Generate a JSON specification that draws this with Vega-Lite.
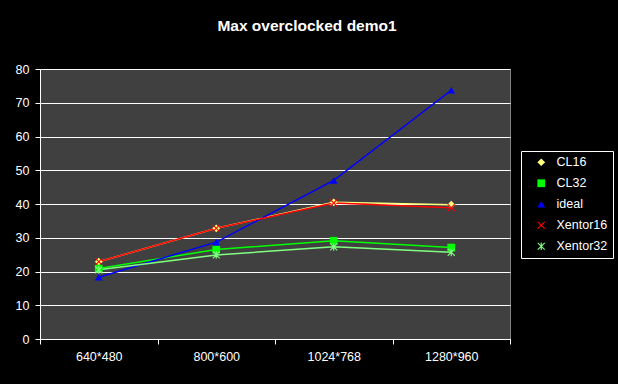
{
  "$schema": "https://vega.github.io/schema/vega-lite/v6.json",
  "width": 470,
  "height": 270,
  "autosize": {"type": "none"},
  "padding": {"left": 40, "top": 69, "right": 108, "bottom": 45},
  "background": "#000000",
  "title": {
    "text": "Max overclocked demo1",
    "color": "#ffffff",
    "font": "Liberation Sans",
    "fontSize": 15.5,
    "fontWeight": "bold",
    "offset": 29,
    "dx": 32
  },
  "config": {
    "view": {"fill": "#404040", "stroke": "#808080", "strokeWidth": 1},
    "font": "Liberation Sans",
    "axis": {
      "labelColor": "#ffffff",
      "labelFont": "Liberation Sans",
      "labelFontSize": 12.5,
      "domainColor": "#ffffff",
      "tickColor": "#ffffff",
      "tickSize": 5,
      "gridColor": "#ffffff",
      "gridOpacity": 1,
      "title": null
    },
    "legend": {
      "orient": "none",
      "legendX": 481,
      "legendY": 82,
      "strokeColor": "#ffffff",
      "fillColor": "#000000",
      "padding": 5,
      "labelColor": "#ffffff",
      "labelFont": "Liberation Sans",
      "labelFontSize": 12.5,
      "symbolOffset": 9,
      "labelOffset": 9,
      "rowPadding": 8,
      "symbolSize": 60,
      "symbolStrokeWidth": 0
    }
  },
  "data": {
    "values": [
      {"res": "640*480", "series": "CL16", "value": 22.9},
      {"res": "800*600", "series": "CL16", "value": 32.8},
      {"res": "1024*768", "series": "CL16", "value": 40.5},
      {"res": "1280*960", "series": "CL16", "value": 39.8},
      {"res": "640*480", "series": "CL32", "value": 20.9},
      {"res": "800*600", "series": "CL32", "value": 26.5},
      {"res": "1024*768", "series": "CL32", "value": 29.1},
      {"res": "1280*960", "series": "CL32", "value": 27.1},
      {"res": "640*480", "series": "ideal", "value": 18.3},
      {"res": "800*600", "series": "ideal", "value": 28.7},
      {"res": "1024*768", "series": "ideal", "value": 47.0},
      {"res": "1280*960", "series": "ideal", "value": 73.7},
      {"res": "640*480", "series": "Xentor16", "value": 22.9},
      {"res": "800*600", "series": "Xentor16", "value": 32.8},
      {"res": "1024*768", "series": "Xentor16", "value": 40.3},
      {"res": "1280*960", "series": "Xentor16", "value": 38.9},
      {"res": "640*480", "series": "Xentor32", "value": 20.5},
      {"res": "800*600", "series": "Xentor32", "value": 24.9},
      {"res": "1024*768", "series": "Xentor32", "value": 27.3},
      {"res": "1280*960", "series": "Xentor32", "value": 25.7}
    ]
  },
  "encoding": {
    "x": {
      "field": "res",
      "type": "ordinal",
      "sort": ["640*480", "800*600", "1024*768", "1280*960"],
      "scale": {"type": "band", "paddingInner": 0, "paddingOuter": 0},
      "axis": {"labelAngle": 0, "tickBand": "extent", "labelPadding": 6, "grid": false}
    },
    "y": {
      "field": "value",
      "type": "quantitative",
      "scale": {"domain": [0, 80], "nice": false},
      "axis": {"values": [0, 10, 20, 30, 40, 50, 60, 70, 80], "grid": true, "labelPadding": 6}
    }
  },
  "layer": [
    {
      "mark": {"type": "line", "strokeWidth": 1.5},
      "encoding": {
        "stroke": {
          "field": "series",
          "type": "nominal",
          "scale": {
            "domain": ["CL16", "CL32", "ideal", "Xentor16", "Xentor32"],
            "range": ["#ffff80", "#00ff00", "#0000ff", "#ff0000", "#80ff80"]
          },
          "legend": {"title": null}
        }
      }
    },
    {
      "mark": {"type": "point", "filled": true, "opacity": 1, "size": 60},
      "encoding": {
        "shape": {
          "field": "series",
          "type": "nominal",
          "scale": {
            "domain": ["CL16", "CL32", "ideal", "Xentor16", "Xentor32"],
            "range": [
              "diamond",
              "square",
              "triangle-up",
              "M-1,-0.8L-0.8,-1L0,-0.2L0.8,-1L1,-0.8L0.2,0L1,0.8L0.8,1L0,0.2L-0.8,1L-1,0.8L-0.2,0Z",
              "M-1,-0.8L-0.8,-1L0,-0.2L0.8,-1L1,-0.8L0.2,0L1,0.8L0.8,1L0,0.2L-0.8,1L-1,0.8L-0.2,0ZM-0.15,-1L0.15,-1L0.15,1L-0.15,1Z"
            ]
          },
          "legend": {"title": null}
        },
        "fill": {
          "field": "series",
          "type": "nominal",
          "scale": {
            "domain": ["CL16", "CL32", "ideal", "Xentor16", "Xentor32"],
            "range": ["#ffff80", "#00ff00", "#0000ff", "#ff0000", "#80ff80"]
          },
          "legend": {"title": null}
        }
      }
    }
  ]
}
